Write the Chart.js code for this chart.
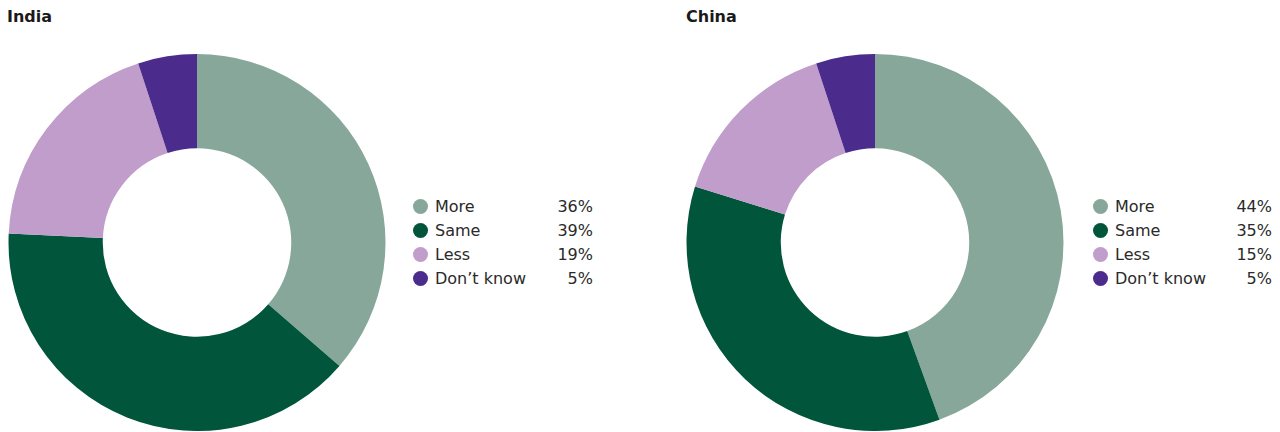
<!DOCTYPE html>
<html>
<head>
<meta charset="utf-8">
<script src="https://cdn.jsdelivr.net/npm/chart.js@4/dist/chart.umd.min.js"></script>
<style>
  html, body { margin: 0; padding: 0; background: #fff; }
  body { width: 1280px; height: 432px; position: relative; overflow: hidden;
         font-family: "DejaVu Sans", sans-serif; color: #1a1a1a; }
  .title { position: absolute; top: 7px; font-weight: bold; font-size: 16px; line-height: 20px; }
  .box { position: absolute; top: 54px; width: 378px; height: 377px; }
  .legend { position: absolute; top: 195px; font-size: 16px; color: #2a2a2a; }
  .row { position: relative; height: 24px; line-height: 24px; }
  .dot { position: absolute; left: 0; top: 4px; width: 15px; height: 15px; border-radius: 50%; }
  .lab { position: absolute; left: 22px; white-space: nowrap; }
  .val { position: absolute; right: 0; }
</style>
</head>
<body>
<div class="title" style="left:7px">India</div>
<div class="title" style="left:686px">China</div>
<div class="box" style="left:8px"><canvas id="indiaChart"></canvas></div>
<div class="box" style="left:686px"><canvas id="chinaChart"></canvas></div>
<div class="legend" id="indiaLegend" style="left:413px;width:180px"></div>
<div class="legend" id="chinaLegend" style="left:1093px;width:179px"></div>

<script>
// categories and values
const categories = ['More', 'Same', 'Less', 'Don\u2019t know'];
const indiaValues = [36, 39, 19, 5];
const chinaValues = [44, 35, 15, 5];
const colors = ['#87a79b', '#00553b', '#c09dcb', '#4b2b8b'];

function makeDoughnut(id, values) {
    const ctx = document.getElementById(id).getContext('2d');
    return new Chart(ctx, {
        type: 'doughnut',
        data: {
            labels: categories,
            datasets: [{
                data: values,
                backgroundColor: colors,
                borderWidth: 0,
            }]
        },
        options: {
            responsive: true,
            maintainAspectRatio: false,
            animation: false,
            cutout: '50%',
            layout: { padding: 0 },
            plugins: {
                legend: { display: false },
                tooltip: { enabled: false }
            }
        }
    });
}

// legend as html rows, value column right aligned
function makeLegend(id, values) {
    const el = document.getElementById(id);
    categories.forEach((c, i) => {
        const row = document.createElement('div');
        row.className = 'row';
        row.innerHTML = '<span class="dot" style="background:' + colors[i] + '"></span>' +
            '<span class="lab">' + c + '</span>' +
            '<span class="val">' + values[i] + '%</span>';
        el.appendChild(row);
    });
}

makeDoughnut('indiaChart', indiaValues);
makeDoughnut('chinaChart', chinaValues);
makeLegend('indiaLegend', indiaValues);
makeLegend('chinaLegend', chinaValues);
</script>
</body>
</html>
